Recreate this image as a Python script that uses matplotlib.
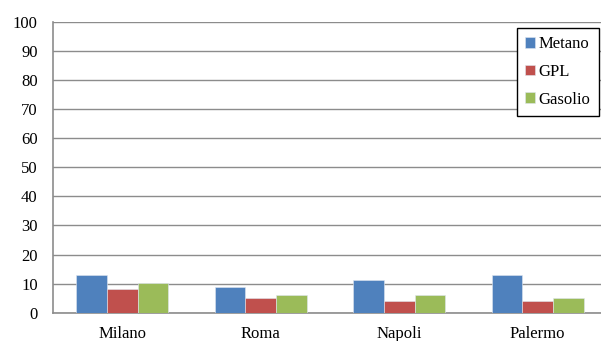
import matplotlib.pyplot as plt
import numpy as np

cities = ['Milano', 'Roma', 'Napoli', 'Palermo']
series_names = ['Metano', 'GPL', 'Gasolio']
metano = [13, 8.9, 11.1, 13]
gpl = [8, 5, 4, 4]
gasolio = [10.3, 6.2, 6.2, 5]
colors = ['#4F81BD', '#C0504D', '#9BBB59']
yticks = list(range(0, 101, 10))

plt.rcParams['font.family'] = ['Liberation Serif', 'DejaVu Serif']

fig = plt.figure(figsize=(6.01, 3.41), dpi=100)
# plot area runs past the right edge of the image, as in the reference
ax = fig.add_axes([53 / 601, (341 - 312.7) / 341, 554 / 601, 290.7 / 341])

x = np.arange(len(cities))
w = 0.222
for i, (vals, name) in enumerate(zip([metano, gpl, gasolio], series_names)):
    ax.bar(x + (i - 1) * w, vals, width=w, color=colors[i], label=name,
           edgecolor='#dfe6f0', linewidth=0.4, zorder=3)

ax.set_xlim(-0.5, len(cities) - 0.5)
ax.set_ylim(0, 100)
ax.set_yticks(yticks)
ax.set_xticks(x)
ax.set_xticklabels(cities)
ax.tick_params(axis='both', length=0, labelsize=12)
ax.tick_params(axis='y', pad=11)
ax.tick_params(axis='x', pad=9.5)
ax.grid(axis='y', color='#8c8c8c', linewidth=1, zorder=0)

for s in ['top', 'right']:
    ax.spines[s].set_visible(False)
for s in ['left', 'bottom']:
    ax.spines[s].set_color('#8c8c8c')
    ax.spines[s].set_linewidth(1.2)

leg = ax.legend(loc='upper right', bbox_to_anchor=(599 / 601, 1 - 28 / 341),
                bbox_transform=fig.transFigure, fancybox=False, framealpha=1,
                edgecolor='black', fontsize=12, handlelength=0.6,
                handleheight=0.6, handletextpad=0.2, labelspacing=0.7,
                borderpad=0.5, borderaxespad=0)
leg.get_frame().set_linewidth(1.0)

fig.savefig('out.png', dpi=100)
